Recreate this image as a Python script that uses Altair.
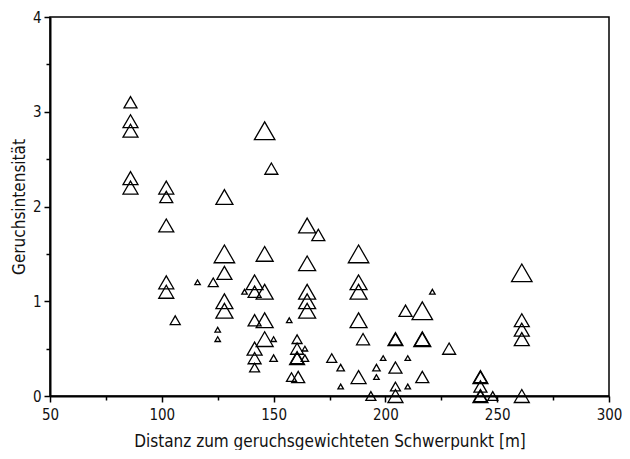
import altair as alt
import pandas as pd

# Distance to odour-weighted centroid [m]
dist = [
    86, 86, 86, 86, 86,
    102, 102, 102, 102, 102, 106, 116, 123, 125, 125,
    128, 128, 128, 128, 128, 137,
    141.5, 141.5, 141.5, 141.5, 141.5, 141.5,
    146, 149, 146, 146, 146, 146, 150, 150, 157, 158,
    160.5, 160.5, 160.5, 160.5, 161, 164, 164,
    165, 170, 165, 165, 165, 165, 176, 180, 180,
    188, 188, 188, 188, 190, 188, 193.5, 196, 196, 199,
    204.5, 204.5, 204.5, 204.5, 204.5, 209, 210, 210,
    216.5, 216.5, 216.5, 216.5, 221, 228.5,
    242.5, 242.5, 242.5, 242.5, 242.5, 248,
    261, 261, 261, 261, 261,
]
# Odour intensity
intens = [
    3.1, 2.9, 2.8, 2.3, 2.2,
    2.2, 2.1, 1.8, 1.2, 1.1, 0.8, 1.2, 1.2, 0.7, 0.6,
    2.1, 1.5, 1.3, 1.0, 0.9, 1.1,
    1.2, 1.1, 0.8, 0.5, 0.4, 0.3,
    2.8, 2.4, 1.5, 1.1, 0.8, 0.6, 0.6, 0.4, 0.8, 0.2,
    0.6, 0.5, 0.4, 0.4, 0.2, 0.5, 0.4,
    1.8, 1.7, 1.4, 1.1, 1.0, 0.9, 0.4, 0.3, 0.1,
    1.5, 1.2, 1.1, 0.8, 0.6, 0.2, 0.0, 0.3, 0.2, 0.4,
    0.6, 0.6, 0.3, 0.1, 0.0, 0.9, 0.4, 0.1,
    0.9, 0.6, 0.6, 0.2, 1.1, 0.5,
    0.2, 0.2, 0.1, 0.0, 0.0, 0.0,
    1.3, 0.8, 0.7, 0.6, 0.0,
]
# Weight class of each observation (symbol size)
weight = [
    4, 5, 5, 5, 5,
    5, 4, 5, 5, 5, 3, 1, 3, 1, 1,
    6, 7, 5, 6, 6, 1,
    6, 4, 4, 5, 4, 3,
    7, 4, 6, 6, 6, 6, 1, 2, 1, 3,
    3, 4, 5, 4, 4, 1, 2,
    6, 4, 6, 6, 6, 6, 3, 2, 1,
    7, 6, 6, 6, 4, 5, 3, 2, 1, 1,
    5, 4, 4, 3, 5, 4, 1, 1,
    7, 5, 6, 4, 1, 4,
    5, 4, 4, 5, 4, 3,
    7, 5, 5, 5, 5,
]

size_levels = [1, 2, 3, 4, 5, 6, 7]
size_range = [30, 56, 100, 169, 225, 289, 420]
x_ticks = [50, 75, 100, 125, 150, 175, 200, 225, 250, 275, 300]
y_ticks = [0, 0.5, 1, 1.5, 2, 2.5, 3, 3.5, 4]

FONT = "'DejaVu Sans Condensed', 'Liberation Sans Narrow', 'Open Sans', sans-serif"

df = pd.DataFrame({"Distanz": dist, "Intensitaet": intens, "Gewicht": weight})

chart = alt.Chart(df).mark_point(
    shape="triangle-up", filled=False, color="black", strokeWidth=1.3, opacity=1
).encode(
    x=alt.X(
        "Distanz:Q",
        scale=alt.Scale(domain=[50, 300], nice=False, zero=False),
        axis=alt.Axis(
            values=x_ticks,
            labelExpr="datum.value % 50 === 0 ? format(datum.value, 'd') : ''",
            tickSize={"condition": {"test": "datum.value % 50 === 0", "value": 6}, "value": 4},
            title="Distanz zum geruchsgewichteten Schwerpunkt [m]",
            grid=False,
            labelFlush=False,
            labelPadding=5,
            titlePadding=11,
        ),
    ),
    y=alt.Y(
        "Intensitaet:Q",
        scale=alt.Scale(domain=[0, 4], nice=False),
        axis=alt.Axis(
            values=y_ticks,
            labelExpr="datum.value % 1 === 0 ? format(datum.value, 'd') : ''",
            tickSize={"condition": {"test": "datum.value % 1 === 0", "value": 6}, "value": 4},
            title="Geruchsintensität",
            grid=False,
            labelFlush=False,
            labelPadding=3,
            titlePadding=4,
        ),
    ),
    size=alt.Size(
        "Gewicht:Q",
        scale=alt.Scale(domain=size_levels, range=size_range),
        legend=None,
    ),
).properties(
    width=559,
    height=379,
    autosize=alt.AutoSizeParams(type="none"),
    padding={"left": 42, "top": 9, "right": 13, "bottom": 54},
).configure_view(
    stroke="black", strokeWidth=1.5
).configure_axis(
    domainColor="black",
    domainWidth=2,
    tickColor="black",
    tickWidth=1.5,
    labelFont=FONT,
    labelFontSize=15,
    labelColor="#111",
    titleFont=FONT,
    titleFontSize=17,
    titleFontWeight="normal",
    titleColor="#111",
)

chart.save("out.html", embed_options={"renderer": "svg", "actions": False})
